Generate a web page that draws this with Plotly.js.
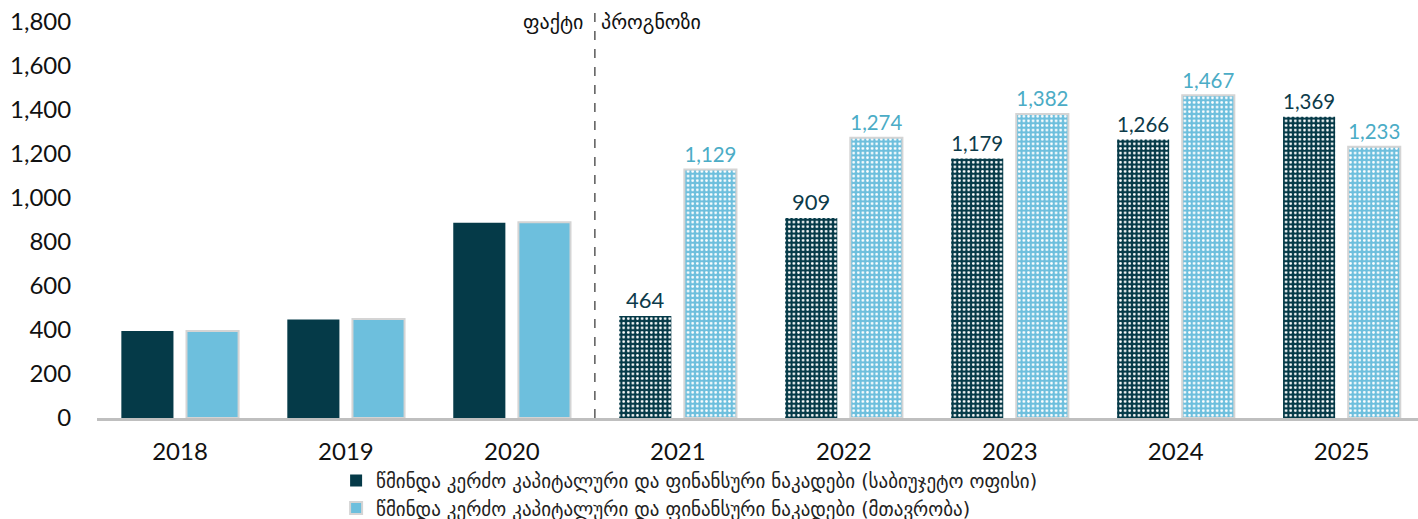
<!DOCTYPE html>
<html><head><meta charset="utf-8">
<script src="https://cdn.plot.ly/plotly-3.0.1.min.js"></script>
<style>html,body{margin:0;padding:0;background:#fff;overflow:hidden}</style>
</head><body>
<div id="chart" style="width:1418px;height:519px"></div>
<script>
const years = ['2018','2019','2020','2021','2022','2023','2024','2025'];
const budgetOffice = [395, 448, 888, 464, 909, 1179, 1266, 1369];
const government = [395, 450, 890, 1129, 1274, 1382, 1467, 1233];
const isForecast = [false, false, false, true, true, true, true, true];
const nameBudget = 'წმინდა კერძო კაპიტალური და ფინანსური ნაკადები (საბიუჯეტო ოფისი)';
const nameGov = 'წმინდა კერძო კაპიტალური და ფინანსური ნაკადები (მთავრობა)';
const labelFact = 'ფაქტი';
const labelForecast = 'პროგნოზი';

const DARK = '#053a48';
const LIGHT = '#6dbfdd';
const fmt = v => v.toLocaleString('en-US');

const trace1 = {
  type: 'bar', x: years, y: budgetOffice, name: nameBudget,
  marker: {
    color: DARK,
    line: {color: DARK, width: 0},
    pattern: {
      shape: isForecast.map(f => f ? '.' : ''),
      fgcolor: '#ffffff', bgcolor: DARK, size: 4.6, solidity: 0.28
    }
  },
  text: budgetOffice.map((v, i) => isForecast[i] ? fmt(v) : ''),
  textposition: 'outside', cliponaxis: false,
  textfont: {family: 'Lato, sans-serif', size: 22, color: '#0d3b4a'},
  hoverinfo: 'x+y'
};
const trace2 = {
  type: 'bar', x: years, y: government, name: nameGov,
  marker: {
    color: LIGHT,
    line: {color: '#d4d4d4', width: 2},
    pattern: {
      shape: isForecast.map(f => f ? '.' : ''),
      fgcolor: '#ffffff', bgcolor: LIGHT, size: 4.6, solidity: 0.28
    }
  },
  text: government.map((v, i) => isForecast[i] ? fmt(v) : ''),
  textposition: 'outside', cliponaxis: false,
  textfont: {family: 'Lato, sans-serif', size: 22, color: '#4bacc6'},
  hoverinfo: 'x+y'
};

const layout = {
  width: 1418, height: 519,
  margin: {l: 97, r: 0, t: 22, b: 101, autoexpand: false},
  paper_bgcolor: '#ffffff', plot_bgcolor: '#ffffff',
  barmode: 'group', bargap: 0.215, bargroupgap: 0.2,
  showlegend: true,
  legend: {
    orientation: 'v', x: 0.181, xanchor: 'left', y: -0.11, yanchor: 'top',
    font: {family: 'DejaVu Sans, sans-serif', size: 19, color: '#222'},
    tracegroupgap: 0, itemwidth: 30, bgcolor: 'rgba(0,0,0,0)'
  },
  xaxis: {
    type: 'category', range: [-0.5, 7.46],
    showgrid: false, zeroline: false,
    showline: true, linecolor: '#bfbfbf', linewidth: 2.5,
    ticks: 'outside', ticklen: 11, tickcolor: 'rgba(0,0,0,0)',
    tickfont: {family: 'Lato, sans-serif', size: 24, color: '#111'}
  },
  yaxis: {
    range: [0, 1800], dtick: 200, tickformat: ',d',
    showgrid: false, zeroline: false, showline: false,
    ticks: 'outside', ticklen: 20, tickcolor: 'rgba(0,0,0,0)',
    tickfont: {family: 'Lato, sans-serif', size: 24, color: '#111'}
  },
  shapes: [{
    type: 'line', xref: 'x', yref: 'paper', x0: 2.5, x1: 2.5, y0: 0, y1: 1.035,
    line: {color: '#595959', width: 1.5, dash: 'dash'}
  }],
  annotations: [
    {xref: 'x', yref: 'paper', x: 2.5, y: 1.0, xanchor: 'right', yanchor: 'middle', xshift: -10,
     text: labelFact, showarrow: false, font: {family: 'DejaVu Sans, sans-serif', size: 20, color: '#111'}},
    {xref: 'x', yref: 'paper', x: 2.5, y: 1.0, xanchor: 'left', yanchor: 'middle', xshift: 4,
     text: labelForecast, showarrow: false, font: {family: 'DejaVu Sans, sans-serif', size: 20, color: '#111'}}
  ]
};
Plotly.newPlot('chart', [trace1, trace2], layout, {displayModeBar: false, staticPlot: true});
</script>
</body></html>
